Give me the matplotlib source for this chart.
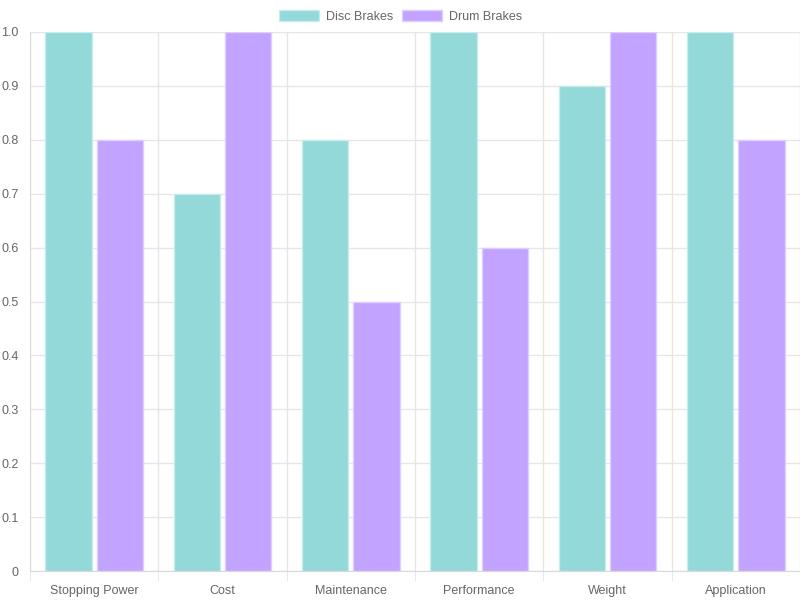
import matplotlib
matplotlib.use("Agg")
import matplotlib.pyplot as plt
import numpy as np

categories = ["Stopping Power", "Cost", "Maintenance", "Performance", "Weight", "Application"]
disc = [1.0, 0.7, 0.8, 1.0, 0.9, 1.0]
drum = [0.8, 1.0, 0.5, 0.6, 1.0, 0.8]

plt.rcParams['font.family'] = ['Liberation Sans', 'DejaVu Sans']
grid_c = '#e6e6e6'
text_c = '#666666'

fig = plt.figure(figsize=(8, 6), dpi=100)
ax = fig.add_axes([0.0375, 0.0483, 0.9625, 0.8984])

x = np.arange(len(categories))
w = 0.36
ax.bar(x - 0.2, disc, w, color='#93d9d9', edgecolor='#c8ecec', linewidth=1, label='Disc Brakes', zorder=2)
ax.bar(x + 0.2, drum, w, color='#c2a3ff', edgecolor='#ddd0ff', linewidth=1, label='Drum Brakes', zorder=2)

ax.set_xlim(-0.5, len(categories) - 0.5)
ax.set_ylim(0, 1.0)
ax.set_yticks(np.arange(0, 1.01, 0.1))
ax.set_yticklabels(['0'] + ['%.1f' % v for v in np.arange(0.1, 1.01, 0.1)])
ax.set_xticks(x)
ax.set_xticklabels(categories)
ax.set_xticks(np.arange(-0.5, len(categories), 1), minor=True)

ax.grid(True, axis='y', color=grid_c, linewidth=1, zorder=0)
ax.grid(True, axis='x', which='minor', color=grid_c, linewidth=1, zorder=0)
ax.tick_params(axis='x', which='major', length=0, pad=10, labelsize=9, labelcolor=text_c)
ax.tick_params(axis='x', which='minor', length=7, color=grid_c)
ax.tick_params(axis='y', length=0, labelsize=9, labelcolor=text_c, pad=8)

for s in ['top', 'right']:
  ax.spines[s].set_visible(False)
for s in ['left', 'bottom']:
  ax.spines[s].set_color('#d9d9d9')

ax.legend(loc='lower center', bbox_to_anchor=(0.5 - 0.0375 / 2, 1.0), ncol=2, frameon=False,
          fontsize=9, labelcolor=text_c, handlelength=3.2, handleheight=1.0, columnspacing=0.75,
          handletextpad=0.5, borderaxespad=0.35)

fig.savefig('out.png', dpi=100)
